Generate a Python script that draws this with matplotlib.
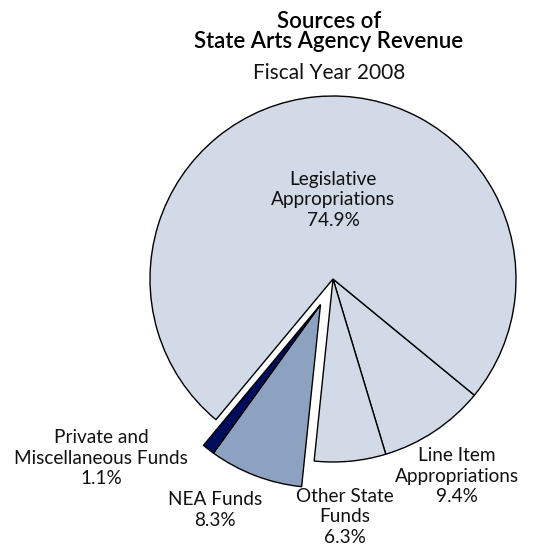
import numpy as np
import matplotlib
matplotlib.use("Agg")
import matplotlib.pyplot as plt

# ---- data ----
categories = ["Line Item\nAppropriations", "Other State\nFunds", "NEA Funds",
              "Private and\nMiscellaneous Funds", "Legislative\nAppropriations"]
shares = [9.4, 6.3, 8.3, 1.1, 74.9]
pct_labels = ["9.4%", "6.3%", "8.3%", "1.1%", "74.9%"]
colors = ["#D2DAE7", "#D2DAE7", "#8DA2C0", "#000C5C", "#D2DAE7"]
exploded_group = [2, 3]  # NEA Funds and Private funds pulled out together

title_lines = ["Sources of", "State Arts Agency Revenue"]
subtitle = "Fiscal Year 2008"

W, H = 548, 554
CX, CY, R = 333.0, 279.0, 183.0  # pie centre / radius in pixels

fig = plt.figure(figsize=(W / 100, H / 100), dpi=100)
ax = fig.add_axes([0, 0, 1, 1])

wedges, _ = ax.pie(shares, colors=colors, startangle=-39.4, counterclock=False,
                   radius=1.0,
                   wedgeprops=dict(edgecolor="black", linewidth=1.0))

# explode the NEA + private group by a common offset
offset_dir = np.deg2rad(-116.0)
offset_mag = 0.156
off = (offset_mag * np.cos(offset_dir), offset_mag * np.sin(offset_dir))
for i in exploded_group:
    wedges[i].set_center(off)

ax.set_xlim(-CX / R, (W - CX) / R)
ax.set_ylim((CY - H) / R, CY / R)
ax.set_aspect("auto")
ax.axis("off")

def px2d(px, py):
    return (px - CX) / R, (CY - py) / R

font = ["Lato", "DejaVu Sans"]
label_pos_px = [(457, 476), (345, 517), (215, 510), (101, 458), (333, 200)]
for name, pct, (px, py) in zip(categories, pct_labels, label_pos_px):
    x, y = px2d(px, py)
    ax.text(x, y, name + "\n" + pct, ha="center", va="center", fontsize=13.7,
            family=font, color="#111111", linespacing=1.25)

fig.text(329 / W, 1 - 21 / H, title_lines[0], ha="center", va="center",
         fontsize=16, family=font, weight="semibold", color="black")
fig.text(329 / W, 1 - 41 / H, title_lines[1], ha="center", va="center",
         fontsize=16, family=font, weight="semibold", color="black")
fig.text(329 / W, 1 - 73 / H, subtitle, ha="center", va="center",
         fontsize=15, family=font, color="#111111")

fig.savefig("out.png", dpi=100, facecolor="white")
